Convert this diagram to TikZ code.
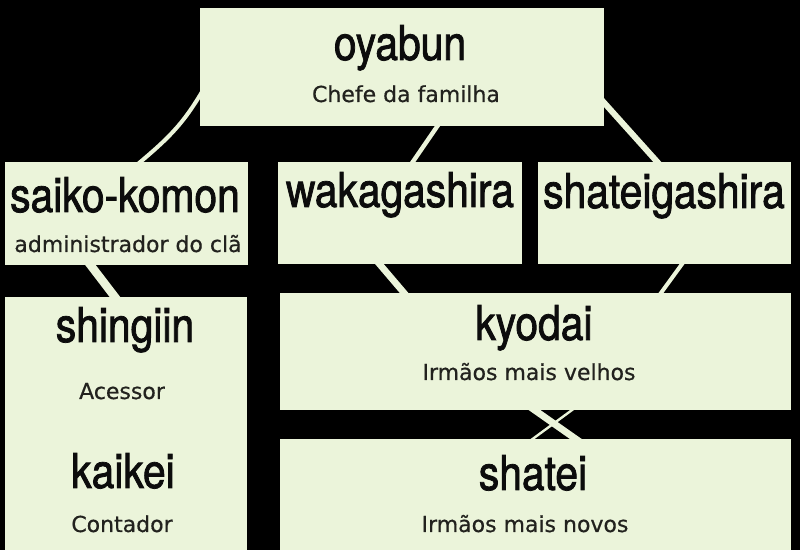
\documentclass[tikz,border=0pt]{standalone}
\usepackage{fontspec}
\newfontfamily\titulofont[FakeStretch=0.85,FakeBold=1.6]{TeX Gyre Heros}
\newfontfamily\legendafont[FakeBold=0.6]{DejaVu Sans}
\definecolor{caixa}{RGB}{235,244,218}
\definecolor{tinta}{RGB}{12,12,12}
\definecolor{tintaleve}{RGB}{34,34,30}
\begin{document}
\begin{tikzpicture}[x=0.5pt,y=0.5pt,
    box/.style={fill=caixa, draw=none, inner sep=0pt, outer sep=0pt, anchor=north west},
    titulo/.style={anchor=base, inner sep=0pt, text=tinta, font=\titulofont\fontsize{24}{28}\selectfont},
    legenda/.style={anchor=base, inner sep=0pt, text=tintaleve, font=\legendafont\fontsize{11}{13}\selectfont},
    liga/.style={draw=caixa, line width=#1, shorten <=-4pt, shorten >=-4pt},
    liga/.default=2pt]
    \useasboundingbox (0,0) rectangle (800,-550);
    %o fundo preto
    \fill[black] (0,0) rectangle (800,-550);

    %as caixas: canto superior esquerdo, largura e altura
    \node[box, minimum width=202pt, minimum height=59pt] (oyabun) at (200,-8) {};
    \node[box, minimum width=121.5pt, minimum height=51.5pt] (saiko) at (5,-162) {};
    \node[box, minimum width=122pt, minimum height=51pt] (waka) at (278,-162) {};
    \node[box, minimum width=126.5pt, minimum height=51pt] (shateig) at (538,-162) {};
    \node[box, minimum width=121pt, minimum height=126.5pt] (shingiin) at (5,-297) {};
    \node[box, minimum width=255.5pt, minimum height=58.5pt] (kyodai) at (280,-293) {};
    \node[box, minimum width=255.5pt, minimum height=55.5pt] (shatei) at (280,-439) {};

    %as ligacoes entre as caixas
    \draw[liga=2pt] (oyabun.188) to[out=-120, in=40] (saiko.75);
    \draw[liga=2.2pt] (oyabun.-59) -- (waka.76);
    \draw[liga=3pt] (oyabun.-10) -- (shateig.98);
    \draw[liga=4.2pt] (saiko.-125) -- (shingiin.95);
    \draw[liga=3.3pt] (waka.-112) -- (kyodai.156);
    \draw[liga=2pt] (shateig.-71) -- (kyodai.25);
    \draw[liga=3.4pt] (kyodai.-91.5) -- (shatei.54);
    \draw[liga=1.2pt] (kyodai.-58) -- (shatei.93.6);

    %os textos, pela linha de base
    \node[titulo] (t-oyabun) at (400,-60) {oyabun};
    \node[legenda] (l-oyabun) at (406,-102) {Chefe da familha};
    \node[titulo] (t-saiko) at (125,-212) {saiko-komon};
    \node[legenda] (l-saiko) at (128,-252) {administrador do clã};
    \node[titulo] (t-waka) at (400,-207) {wakagashira};
    \node[titulo] (t-shateig) at (664,-208) {shateigashira};
    \node[titulo] (t-shingiin) at (125,-342) {shingiin};
    \node[legenda] (l-shingiin) at (122,-399) {Acessor};
    \node[titulo] (t-kaikei) at (123,-488) {kaikei};
    \node[legenda] (l-kaikei) at (122,-532) {Contador};
    \node[titulo] (t-kyodai) at (534,-340) {kyodai};
    \node[legenda] (l-kyodai) at (529,-380) {Irmãos mais velhos};
    \node[titulo] (t-shatei) at (533,-490) {shatei};
    \node[legenda] (l-shatei) at (525,-532) {Irmãos mais novos};
\end{tikzpicture}
\end{document}
